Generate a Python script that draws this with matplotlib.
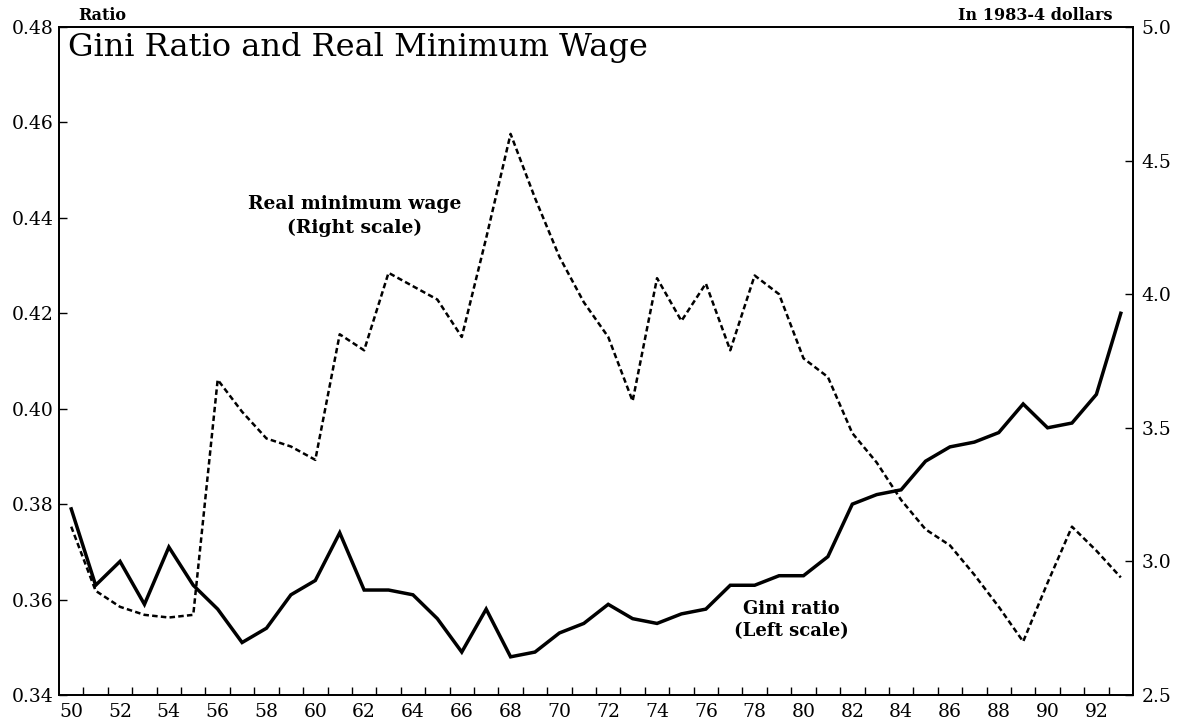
import matplotlib
matplotlib.use("Agg")
import matplotlib.pyplot as plt
from matplotlib.ticker import MultipleLocator, FixedLocator

years = list(range(1950, 1994))
gini = [0.379, 0.363, 0.368, 0.359, 0.371, 0.363, 0.358, 0.351, 0.354, 0.361,
        0.364, 0.374, 0.362, 0.362, 0.361, 0.356, 0.349, 0.358, 0.348, 0.349,
        0.353, 0.355, 0.359, 0.356, 0.355, 0.357, 0.358, 0.363, 0.363, 0.365,
        0.365, 0.369, 0.380, 0.382, 0.383, 0.389, 0.392, 0.393, 0.395, 0.401,
        0.396, 0.397, 0.403, 0.420]
min_wage = [3.13, 2.89, 2.83, 2.80, 2.79, 2.80, 3.68, 3.56, 3.46, 3.43,
            3.38, 3.85, 3.79, 4.08, 4.03, 3.98, 3.84, 4.21, 4.60, 4.36,
            4.14, 3.97, 3.84, 3.60, 4.06, 3.90, 4.04, 3.79, 4.07, 4.00,
            3.76, 3.69, 3.48, 3.37, 3.23, 3.12, 3.06, 2.95, 2.83, 2.70,
            2.92, 3.13, 3.04, 2.94]
x_labels = [str(y % 100) for y in range(1950, 1993, 2)]

plt.rcParams["font.family"] = "DejaVu Serif"

fig = plt.figure(figsize=(11.78, 7.26), dpi=100)
ax = fig.add_axes([0.0501, 0.0427, 0.9117, 0.9201])
ax2 = ax.twinx()

yr = [y - 1900 for y in years]
ax.plot(yr, gini, color="black", lw=2.5, solid_joinstyle="miter")
ax2.plot(yr, min_wage, color="black", lw=1.8, linestyle=(0, (2.2, 1.3)))

ax.set_xlim(49.5, 93.5)
ax.set_ylim(0.34, 0.48)
ax2.set_ylim(2.5, 5.0)

# year labels sit on the data points, tick marks fall between years
ax.xaxis.set_major_locator(FixedLocator(range(50, 93, 2)))
ax.set_xticklabels(x_labels)
ax.xaxis.set_minor_locator(FixedLocator([v + 0.5 for v in range(50, 93)]))
ax.tick_params(axis="x", which="major", length=0, pad=6, labelsize=13.5)
ax.tick_params(axis="x", which="minor", direction="in", length=6, width=1)

ax.yaxis.set_major_locator(MultipleLocator(0.02))
ax.yaxis.set_major_formatter(plt.FormatStrFormatter("%.2f"))
ax.tick_params(axis="y", direction="in", length=6, width=1, labelsize=13.5, pad=4)

ax2.yaxis.set_major_locator(MultipleLocator(0.5))
ax2.yaxis.set_major_formatter(plt.FormatStrFormatter("%.1f"))
ax2.tick_params(axis="y", direction="in", length=6, width=1, labelsize=13.5, pad=6)

for a in (ax, ax2):
    for s in a.spines.values():
        s.set_linewidth(1.3)

ax.text(0.008, 0.970, "Gini Ratio and Real Minimum Wage", transform=ax.transAxes,
        fontsize=23, va="center", ha="left")
ax.text(0.018, 1.004, "Ratio", transform=ax.transAxes, fontsize=11.5,
        fontweight="bold", ha="left", va="bottom")
ax.text(0.981, 1.004, "In 1983-4 dollars", transform=ax.transAxes, fontsize=11.5,
        fontweight="bold", ha="right", va="bottom")

ax.text(61.6, 0.4404, "Real minimum wage\n(Right scale)", fontsize=13.5,
        fontweight="bold", ha="center", va="center", linespacing=1.35)
ax.text(79.5, 0.3557, "Gini ratio\n(Left scale)", fontsize=13,
        fontweight="bold", ha="center", va="center", linespacing=1.25)

fig.savefig("out.png", dpi=100)
